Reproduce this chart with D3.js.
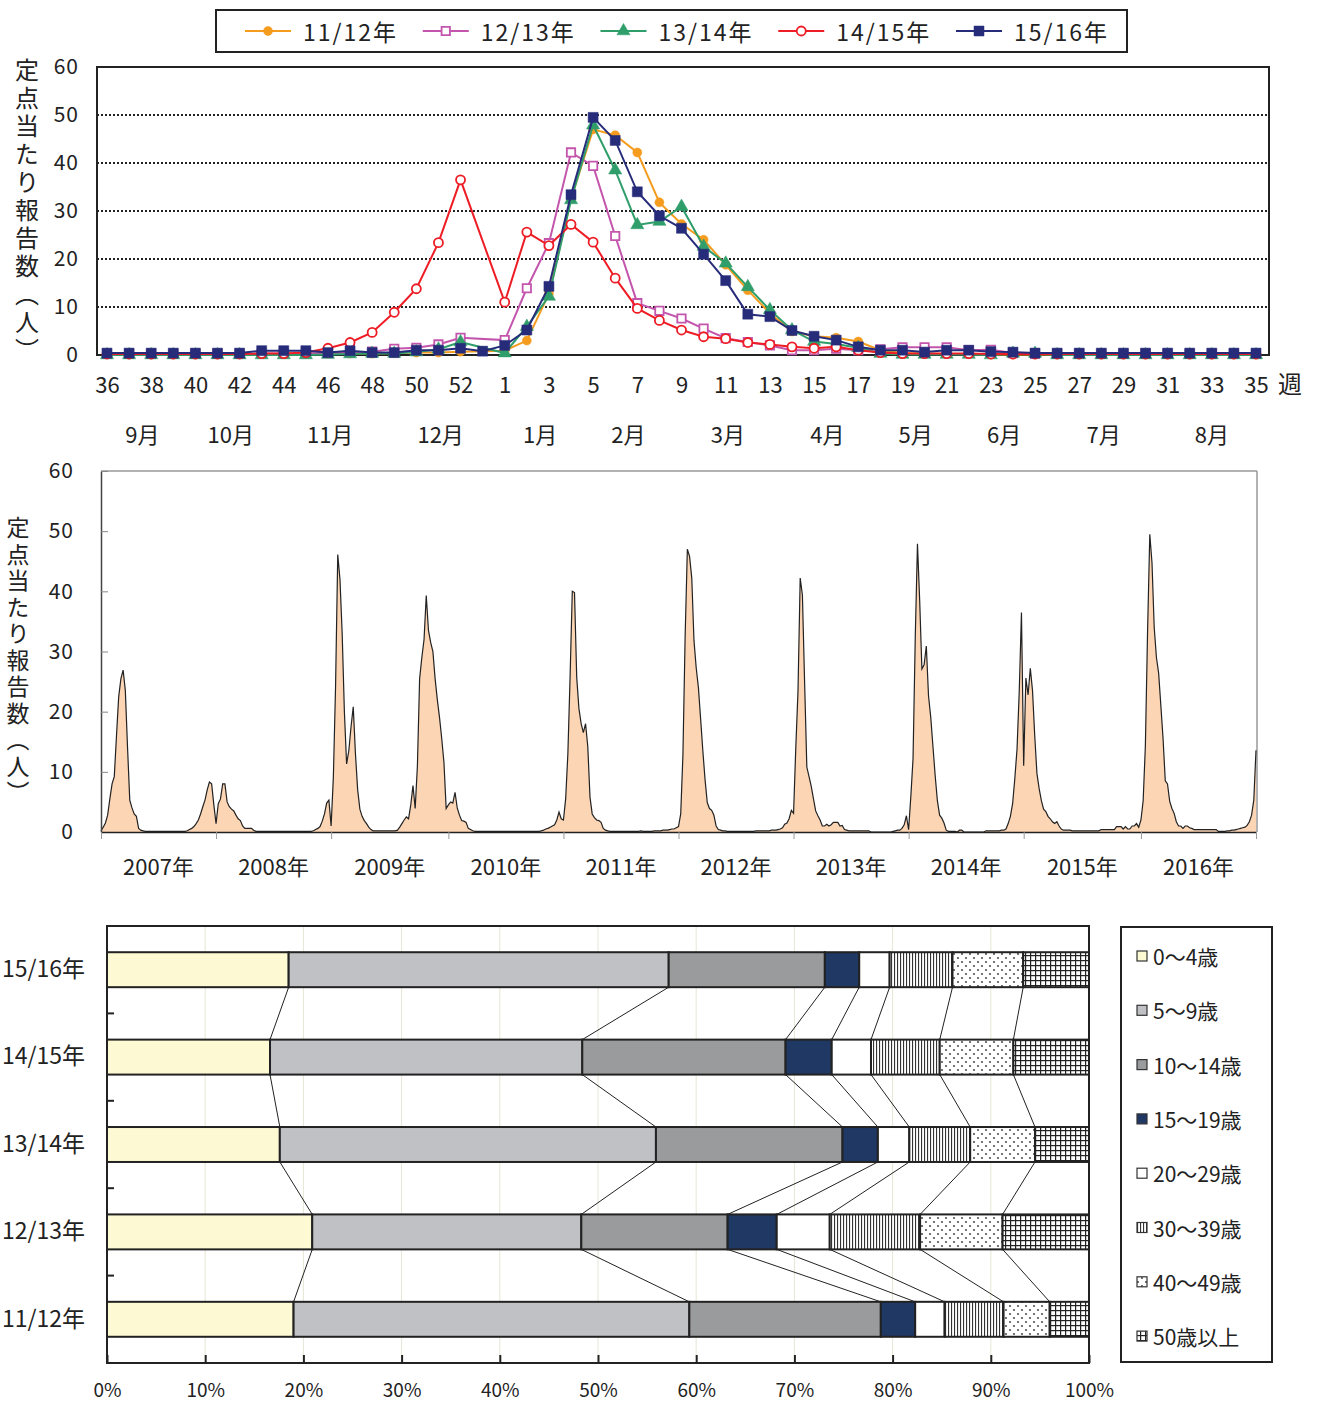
<!DOCTYPE html>
<html>
<head>
<meta charset="utf-8">
<script src="https://cdn.jsdelivr.net/npm/d3@7"></script>
<style>
  body { margin: 0; background: #fff; }
  svg { display: block; font-family: "Noto Sans CJK JP", "Noto Sans", sans-serif; }
</style>
</head>
<body>
<svg width="1320" height="1402"></svg>
<script>
// ---------- top chart: weekly reports per sentinel, by season ----------
const weekLabels = ["36","37","38","39","40","41","42","43","44","45","46","47","48","49","50","51","52","53",
  "1","2","3","4","5","6","7","8","9","10","11","12","13","14","15","16","17","18","19","20",
  "21","22","23","24","25","26","27","28","29","30","31","32","33","34","35"];

const seasonNames = ["11/12年", "12/13年", "13/14年", "14/15年", "15/16年"];

// week 36 .. 52, week 53 (null if the year had none), week 1 .. 35
const s1112 = [0.2,0.1,0.1,0.1,0.1,0.1,0.2,0.2,0.2,0.2,0.3,0.3,0.3,0.4,0.5,0.5,0.7, null,
  0.9,3.0,12.8,32.5,47.0,45.8,42.2,31.8,27.3,24.0,18.8,13.5,8.7,4.9,3.9,3.6,2.8,1.0,0.4,0.3,0.2,0.2,
  0.1,0.1,0.1,0.1,0.1,0.1,0.1,0.1,0.1,0.1,0.1,0.1,0.1];
const s1213 = [0.2,0.2,0.2,0.2,0.2,0.2,0.2,0.3,0.3,0.3,0.4,0.5,0.7,1.3,1.5,2.2,3.6, null,
  3.1,13.9,23.3,42.2,39.4,24.8,10.8,9.2,7.6,5.5,3.5,2.7,2.0,1.0,1.0,1.3,1.0,1.2,1.6,1.6,1.6,1.0,
  1.1,0.4,0.3,0.2,0.2,0.2,0.2,0.2,0.2,0.2,0.2,0.2,0.2];
const s1314 = [0,0,0,0,0,0,0,0,0,0,0.1,0.2,0.3,0.3,0.6,1.2,2.7, null,
  0.4,5.9,12.2,32.3,47.9,38.5,27.1,27.8,30.9,22.6,19.1,14.2,9.4,5.2,2.8,2.3,1.5,0.3,0.1,0.1,0.1,0.1,
  0,0.3,0.3,0,0,0,0,0,0,0,0,0,0];
const s1415 = [0.2,0.2,0.2,0.2,0.2,0.2,0.2,0.3,0.3,0.5,1.4,2.6,4.7,8.9,13.8,23.4,36.5, null,
  11.0,25.6,22.8,27.2,23.5,16.0,9.7,7.2,5.2,3.8,3.4,2.6,2.2,1.7,1.4,1.7,1.0,0.5,0.3,0.3,0.3,0.3,
  0.2,0.2,0.2,0.2,0.2,0.2,0.2,0.2,0.2,0.2,0.2,0.2,0.2];
const s1516 = [0.4,0.4,0.4,0.4,0.4,0.4,0.4,0.9,0.9,0.9,0.5,0.9,0.5,0.5,1.0,1.0,1.4, 0.8,
  2.0,5.2,14.3,33.4,49.5,44.7,34.0,29.0,26.4,21.0,15.5,8.5,8.0,5.1,3.9,3.1,1.7,1.0,1.0,0.6,1.0,1.0,
  0.7,0.6,0.4,0.4,0.4,0.4,0.4,0.4,0.4,0.4,0.4,0.4,0.4];

const monthLabels = ["9月","10月","11月","12月","1月","2月","3月","4月","5月","6月","7月","8月"];
// week index (0 = week 36) at which each month label is centred
const monthCentre = [1.6, 5.6, 10.1, 15.1, 19.6, 23.6, 28.1, 32.6, 36.6, 40.6, 45.1, 50.0];

// ---------- middle chart: weekly series 2007 week 1 .. 2017 week 1 ----------
const w2007 = [0.2,0.8,1.5,2.8,5.5,8.0,9.2,16.0,22.5,25.5,26.9,23.5,14.0,5.3,4.0,3.0,2.6,0.6,0.3,0.2,
  0.1,0.1,0.1,0.1,0.1,0.1,0.1,0.1,0.1,0.1,0.1,0.1,0.1,0.1,0.1];
const s0708 = [0.1,0.1,0.1,0.1,0.2,0.4,0.6,0.9,1.4,2.0,3.0,4.2,5.3,7.0,8.3,8.0,4.5,
  1.4,4.7,5.5,8.0,8.0,5.0,4.2,3.8,3.5,2.8,2.2,1.9,1.0,0.6,0.6,0.6,0.6,0.3,
  0.1,0.1,0.1,0.1,0.1,0.1,0.1,0.1,0.1,0.1,0.1,0.1,0.1,0.1,0.1,0.1,0.1];
const s0809 = [0.1,0.1,0.1,0.1,0.1,0.1,0.1,0.1,0.1,0.2,0.4,0.6,0.9,1.8,3.0,4.8,5.3,
  1.0,9.0,24.0,46.1,42.0,33.0,20.0,11.3,13.5,17.5,20.8,13.0,7.0,3.8,2.6,1.9,1.4,0.8,0.4,
  0.2,0.2,0.2,0.2,0.2,0.2,0.2,0.2,0.2,0.2,0.2,0.3,0.8,1.4,2.0,2.5];
const s0910 = [2.2,4.5,7.7,3.9,11.0,25.5,29.0,32.0,39.3,33.5,31.5,30.0,25.5,22.0,19.0,15.5,11.5,3.9,
  4.5,5.0,4.8,6.6,4.0,2.8,1.9,1.8,1.6,0.6,0.4,0.2,
  0.1,0.1,0.1,0.1,0.1,0.1,0.1,0.1,0.1,0.1,0.1,0.1,0.1,0.1,0.1,0.1,0.1,0.1,0.1,0.1,0.1,0.1,0.1];
const s1011 = [0.1,0.1,0.1,0.1,0.1,0.1,0.1,0.2,0.3,0.5,0.6,0.8,1.0,1.2,2.0,3.3,2.2,
  2.0,5.5,13.0,25.7,40.0,39.8,25.7,20.5,18.0,16.5,18.0,14.2,5.8,3.0,2.4,2.0,1.9,1.6,0.6,0.3,0.2,
  0.1,0.1,0.1,0.1,0.1,0.1,0.1,0.1,0.1,0.1,0.1,0.1,0.1,0.1];
const s1617 = [0.1,0.1,0.1,0.1,0.2,0.2,0.3,0.3,0.4,0.5,0.6,0.7,0.8,1.1,1.7,2.8,5.3, 13.6];

const yearLabels = ["2007年","2008年","2009年","2010年","2011年","2012年","2013年","2014年","2015年","2016年"];
const yearWeeks = [52, 52, 53, 52, 52, 52, 52, 52, 53, 52];

// ---------- bottom chart: share of reports by age group (%) ----------
const ageGroups = ["0～4歳","5～9歳","10～14歳","15～19歳","20～29歳","30～39歳","40～49歳","50歳以上"];
const barSeasons = ["15/16年","14/15年","13/14年","12/13年","11/12年"];
const share1516 = [18.5, 38.7, 15.9, 3.5, 3.1, 6.4, 7.2, 6.7];
const share1415 = [16.6, 31.8, 20.7, 4.7, 4.0, 7.0, 7.5, 7.7];
const share1314 = [17.6, 38.3, 19.0, 3.6, 3.2, 6.2, 6.6, 5.5];
const share1213 = [20.9, 27.4, 14.9, 5.0, 5.4, 9.2, 8.4, 8.8];
const share1112 = [19.0, 40.3, 19.5, 3.5, 3.0, 6.0, 4.7, 4.0];

// ======================================================================
const svg = d3.select("svg");
const ink = "#222";

// ---------- top chart ----------
const seriesValues = [s1112, s1213, s1314, s1415, s1516];
const seriesStyle = [
  {color: "#f59c1f", type: d3.symbolCircle, size: 64, open: false},
  {color: "#c455ad", type: d3.symbolSquare, size: 70, open: true},
  {color: "#2f9e6a", type: d3.symbolTriangle, size: 75, open: false},
  {color: "#ee1c25", type: d3.symbolCircle, size: 64, open: true},
  {color: "#262c7a", type: d3.symbolSquare, size: 100, open: false}
];

const xW = d3.scaleLinear().domain([0, weekLabels.length - 1]).range([107, 1256]);
const yT = d3.scaleLinear().domain([0, 60]).range([355, 67]);

const gTop = svg.append("g");
gTop.selectAll("line.grid").data([10, 20, 30, 40, 50, 60]).join("line")
  .attr("x1", 97).attr("x2", 1269)
  .attr("y1", d => yT(d)).attr("y2", d => yT(d))
  .attr("stroke", ink).attr("stroke-width", 2).attr("stroke-dasharray", "2,2");
gTop.append("rect").attr("x", 97).attr("y", 67).attr("width", 1172).attr("height", 288)
  .attr("fill", "none").attr("stroke", ink).attr("stroke-width", 2);

const yAxisT = gTop.append("g").attr("transform", "translate(97,0)")
  .call(d3.axisLeft(yT).tickValues([0, 10, 20, 30, 40, 50, 60]).tickSize(0).tickPadding(18));
yAxisT.select(".domain").remove();
yAxisT.selectAll("text").attr("font-size", 21).attr("fill", ink).style("letter-spacing", "1px")
  .attr("font-family", "Noto Sans CJK JP");

const xAxisT = gTop.append("g").attr("transform", "translate(0,355)")
  .call(d3.axisBottom(xW).tickValues(d3.range(0, weekLabels.length, 2))
    .tickFormat(i => weekLabels[i]).tickSize(0).tickPadding(22));
xAxisT.select(".domain").remove();
xAxisT.selectAll("text").attr("font-size", 22).attr("fill", ink).attr("font-family", "Noto Sans CJK JP");

gTop.append("text").attr("x", 1290).attr("y", 382).attr("text-anchor", "middle")
  .attr("dominant-baseline", "central").attr("font-size", 24).attr("fill", ink).text("週");

gTop.selectAll("text.month").data(monthLabels).join("text")
  .attr("class", "month")
  .attr("x", (d, i) => xW(monthCentre[i])).attr("y", 433)
  .attr("text-anchor", "middle").attr("dominant-baseline", "central")
  .attr("font-size", 22).attr("fill", ink).text(d => d);

gTop.append("text").attr("x", 27).attr("y", 212).attr("text-anchor", "middle")
  .style("writing-mode", "vertical-rl").style("letter-spacing", "4px")
  .attr("font-size", 24).attr("fill", ink).text("定点当たり報告数（人）");

const line = d3.line().x(d => xW(d[0])).y(d => yT(d[1]));
seriesValues.forEach((vals, k) => {
  const st = seriesStyle[k];
  const pts = vals.map((v, i) => [i, v]).filter(d => d[1] != null);
  const g = gTop.append("g");
  g.append("path").datum(pts).attr("d", line)
    .attr("fill", "none").attr("stroke", st.color).attr("stroke-width", 2);
  g.selectAll("path.mk").data(pts).join("path").attr("class", "mk")
    .attr("transform", d => `translate(${xW(d[0])},${yT(d[1])})`)
    .attr("d", d3.symbol(st.type, st.size))
    .attr("fill", st.open ? "#fff" : st.color)
    .attr("stroke", st.color).attr("stroke-width", st.open ? 1.8 : 0.5);
});

// top legend
const gLeg = svg.append("g");
gLeg.append("rect").attr("x", 216).attr("y", 10).attr("width", 911).attr("height", 42)
  .attr("fill", "#fff").attr("stroke", ink).attr("stroke-width", 2);
seasonNames.forEach((name, k) => {
  const st = seriesStyle[k];
  const x0 = 245 + k * 177.75, y0 = 31;
  gLeg.append("line").attr("x1", x0).attr("x2", x0 + 46).attr("y1", y0).attr("y2", y0)
    .attr("stroke", st.color).attr("stroke-width", 2);
  gLeg.append("path").attr("transform", `translate(${x0 + 23},${y0})`)
    .attr("d", d3.symbol(st.type, st.size))
    .attr("fill", st.open ? "#fff" : st.color)
    .attr("stroke", st.color).attr("stroke-width", st.open ? 1.8 : 0.5);
  gLeg.append("text").attr("x", x0 + 58).attr("y", y0).attr("dominant-baseline", "central")
    .attr("font-size", 23).style("letter-spacing", "2px").attr("fill", ink).text(name);
});

// ---------- middle chart ----------
const weekly = [].concat(w2007, s0708, s0809, s0910, s1011,
  ...seriesValues.map(s => s.filter(v => v != null)), s1617);
const yearStarts = [0];
yearWeeks.forEach(n => yearStarts.push(yearStarts[yearStarts.length - 1] + n));

const xM = d3.scaleLinear().domain([0, yearStarts[yearStarts.length - 1]]).range([101, 1256]);
const yM = d3.scaleLinear().domain([0, 60]).range([832, 471]);

const gMid = svg.append("g");
gMid.append("line").attr("x1", 101).attr("x2", 1257).attr("y1", 471).attr("y2", 471)
  .attr("stroke", "#999").attr("stroke-width", 1.5);
gMid.append("line").attr("x1", 1257).attr("x2", 1257).attr("y1", 471).attr("y2", 832)
  .attr("stroke", "#999").attr("stroke-width", 1.5);

const area = d3.area().x((d, i) => xM(i)).y0(yM(0)).y1(d => yM(d));
const lineM = d3.line().x((d, i) => xM(i)).y(d => yM(d));
gMid.append("path").datum(weekly).attr("d", area).attr("fill", "#fcd5b4");
gMid.append("path").datum(weekly).attr("d", lineM)
  .attr("fill", "none").attr("stroke", ink).attr("stroke-width", 1.2);

const yAxisM = gMid.append("g").attr("transform", "translate(101,0)")
  .call(d3.axisLeft(yM).tickValues([0, 10, 20, 30, 40, 50, 60])
    .tickSizeInner(-7).tickSizeOuter(0).tickPadding(27));
yAxisM.select(".domain").attr("stroke", "#444").attr("stroke-width", 1.5);
yAxisM.selectAll(".tick line").attr("stroke", "#888");
yAxisM.selectAll("text").attr("font-size", 21).attr("fill", ink).style("letter-spacing", "1px")
  .attr("font-family", "Noto Sans CJK JP");

const xAxisM = gMid.append("g").attr("transform", "translate(0,832)")
  .call(d3.axisBottom(xM).tickValues(yearStarts).tickSizeInner(7).tickSizeOuter(0).tickFormat(""));
xAxisM.select(".domain").attr("stroke", ink).attr("stroke-width", 1.5);
xAxisM.selectAll(".tick line").attr("stroke", "#999");

gMid.selectAll("text.year").data(yearLabels).join("text").attr("class", "year")
  .attr("x", (d, i) => xM((yearStarts[i] + yearStarts[i + 1]) / 2)).attr("y", 865)
  .attr("text-anchor", "middle").attr("dominant-baseline", "central")
  .attr("font-size", 22).attr("fill", ink).text(d => d);

gMid.append("text").attr("x", 18).attr("y", 662).attr("text-anchor", "middle")
  .style("writing-mode", "vertical-rl").style("letter-spacing", "3.5px")
  .attr("font-size", 23).attr("fill", ink).text("定点当たり報告数（人）");

// ---------- bottom chart ----------
const defs = svg.append("defs");
const pv = defs.append("pattern").attr("id", "pVert").attr("patternUnits", "userSpaceOnUse")
  .attr("width", 3).attr("height", 3);
pv.append("rect").attr("width", 3).attr("height", 3).attr("fill", "#fff");
pv.append("rect").attr("x", 0).attr("width", 1.1).attr("height", 3).attr("fill", "#333");
const pd = defs.append("pattern").attr("id", "pDot").attr("patternUnits", "userSpaceOnUse")
  .attr("width", 8).attr("height", 8);
pd.append("rect").attr("width", 8).attr("height", 8).attr("fill", "#fff");
pd.append("circle").attr("cx", 2).attr("cy", 2).attr("r", 0.9).attr("fill", "#333");
pd.append("circle").attr("cx", 6).attr("cy", 6).attr("r", 0.9).attr("fill", "#333");
const pg = defs.append("pattern").attr("id", "pGrid").attr("patternUnits", "userSpaceOnUse")
  .attr("width", 5).attr("height", 5);
pg.append("rect").attr("width", 5).attr("height", 5).attr("fill", "#fff");
pg.append("rect").attr("width", 1.2).attr("height", 5).attr("fill", "#222");
pg.append("rect").attr("width", 5).attr("height", 1.2).attr("fill", "#222");

const ageFill = ["#fdf9d2", "#c0c1c5", "#9a9b9d", "#1f3864", "#fff", "url(#pVert)", "url(#pDot)", "url(#pGrid)"];

const shares = [share1516, share1415, share1314, share1213, share1112];
const rows = barSeasons.map((s, i) => {
  const r = {season: s};
  ageGroups.forEach((a, j) => r[a] = shares[i][j]);
  return r;
});
const stacked = d3.stack().keys(ageGroups)(rows);

const xB = d3.scaleLinear().domain([0, 100]).range([107, 1089]);
const yB = d3.scaleBand().domain(barSeasons).range([926, 1363]).paddingInner(0.6).paddingOuter(0.3);

const gBar = svg.append("g");
gBar.selectAll("line.vgrid").data(d3.range(10, 100, 10)).join("line")
  .attr("x1", d => xB(d)).attr("x2", d => xB(d)).attr("y1", 926).attr("y2", 1363)
  .attr("stroke", "#e6e6d6").attr("stroke-width", 1);

// connector lines between segment boundaries of neighbouring bars
for (let i = 0; i < barSeasons.length - 1; i++) {
  for (let k = 0; k < ageGroups.length - 1; k++) {
    gBar.append("line")
      .attr("x1", xB(stacked[k][i][1])).attr("y1", yB(barSeasons[i]) + yB.bandwidth())
      .attr("x2", xB(stacked[k][i + 1][1])).attr("y2", yB(barSeasons[i + 1]))
      .attr("stroke", ink).attr("stroke-width", 1);
  }
}

stacked.forEach((layer, k) => {
  gBar.append("g").selectAll("rect").data(layer).join("rect")
    .attr("x", d => xB(d[0])).attr("width", d => xB(d[1]) - xB(d[0]))
    .attr("y", d => yB(d.data.season)).attr("height", yB.bandwidth())
    .attr("fill", ageFill[k]).attr("stroke", ink).attr("stroke-width", 2);
});

gBar.append("rect").attr("x", 107).attr("y", 926).attr("width", 982).attr("height", 437)
  .attr("fill", "none").attr("stroke", ink).attr("stroke-width", 2);

// tick marks between the bar bands
gBar.selectAll("line.band").data(barSeasons.slice(0, -1)).join("line")
  .attr("x1", 107).attr("x2", 114)
  .attr("y1", d => yB(d) + yB.bandwidth() + yB.step() * yB.paddingInner() / 2)
  .attr("y2", d => yB(d) + yB.bandwidth() + yB.step() * yB.paddingInner() / 2)
  .attr("stroke", ink).attr("stroke-width", 2);

const yAxisB = gBar.append("g").attr("transform", "translate(107,0)")
  .call(d3.axisLeft(yB).tickSize(0).tickPadding(22));
yAxisB.select(".domain").remove();
yAxisB.selectAll("text").attr("font-size", 23).attr("fill", ink).attr("font-family", "Noto Sans CJK JP");

const xAxisB = gBar.append("g").attr("transform", "translate(0,1363)")
  .call(d3.axisBottom(xB).tickValues(d3.range(0, 101, 10)).tickFormat(d => d + "%")
    .tickSizeInner(-8).tickSizeOuter(0).tickPadding(21));
xAxisB.select(".domain").remove();
xAxisB.selectAll(".tick line").attr("stroke", ink).attr("stroke-width", 2);
xAxisB.selectAll("text").attr("font-size", 19).attr("fill", ink).attr("font-family", "Noto Sans CJK JP");

// bottom legend
const gAge = svg.append("g");
gAge.append("rect").attr("x", 1121).attr("y", 927).attr("width", 151).attr("height", 435)
  .attr("fill", "#fff").attr("stroke", ink).attr("stroke-width", 2);
ageGroups.forEach((a, j) => {
  const cy = 956 + j * 54.3;
  gAge.append("rect").attr("x", 1137).attr("y", cy - 5).attr("width", 10).attr("height", 10)
    .attr("fill", ageFill[j]).attr("stroke", "#333").attr("stroke-width", 1.2);
  gAge.append("text").attr("x", 1153).attr("y", cy).attr("dominant-baseline", "central")
    .attr("font-size", 21).attr("fill", ink).text(a);
});
</script>
</body>
</html>
